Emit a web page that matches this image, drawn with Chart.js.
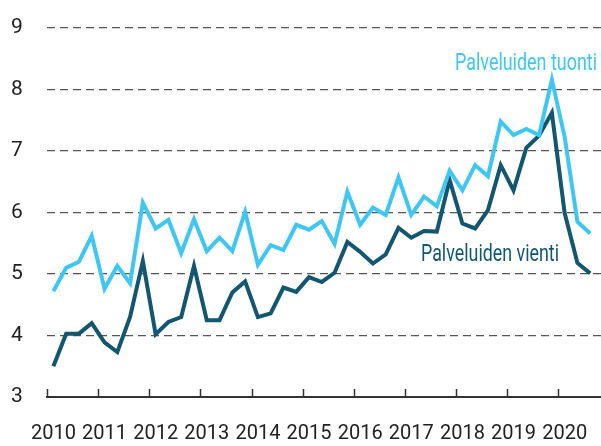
<!DOCTYPE html>
<html>
<head>
<meta charset="utf-8">
<script src="https://cdn.jsdelivr.net/npm/chart.js@4"></script>
<style>
  html, body { margin: 0; padding: 0; background: #fff; overflow: hidden; }
  canvas { display: block; }
</style>
</head>
<body>
<canvas id="chart" width="628" height="446"></canvas>
<script>
// vuodet x-akselille, neljännekset niiden sisällä
var years = ['2010', '2011', '2012', '2013', '2014', '2015', '2016', '2017', '2018', '2019', '2020'];
var quarters = [];
years.forEach(function (y) {
    for (var q = 1; q <= 4; q++) quarters.push(y + 'Q' + q);
});

// mrd. euroa, neljännesvuosittain 2010Q1 - 2020Q3
var tuonti = [4.72, 5.10, 5.20, 5.62, 4.76, 5.13, 4.85, 6.16, 5.74, 5.88, 5.34, 5.89,
              5.37, 5.59, 5.37, 6.01, 5.15, 5.47, 5.39, 5.80, 5.72, 5.86, 5.49, 6.34,
              5.80, 6.08, 5.96, 6.57, 5.96, 6.26, 6.10, 6.68, 6.36, 6.77, 6.59, 7.48,
              7.26, 7.36, 7.26, 8.16, 7.23, 5.85, 5.66];
var vienti = [3.50, 4.03, 4.03, 4.20, 3.89, 3.73, 4.30, 5.21, 4.02, 4.22, 4.30, 5.13,
              4.25, 4.25, 4.70, 4.88, 4.30, 4.36, 4.78, 4.71, 4.95, 4.87, 5.02, 5.52,
              5.36, 5.17, 5.32, 5.75, 5.59, 5.70, 5.69, 6.53, 5.82, 5.74, 6.04, 6.77,
              6.36, 7.05, 7.25, 7.62, 5.99, 5.18, 5.01];

var yTicks = [3, 4, 5, 6, 7, 8, 9];

var FONT = "Roboto, 'Liberation Sans', sans-serif";
var LIGHT = '#40c6f2';
var DARK = '#135670';

// vuosirajojen pystyviivat ja sarjojen nimet
var extras = {
    id: 'extras',
    afterDatasetsDraw: function (chart) {
        var ctx = chart.ctx;
        var x = chart.scales.x;
        var bottom = chart.chartArea.bottom;
        var half = (x.getPixelForValue(1) - x.getPixelForValue(0)) / 2;
        ctx.save();
        ctx.strokeStyle = '#333';
        ctx.lineWidth = 1.5;
        for (var i = 0; i <= quarters.length; i += 4) {
            var px = Math.round(x.getPixelForValue(0) - half + i * 2 * half) + 0.5;
            ctx.beginPath();
            ctx.moveTo(px, bottom);
            ctx.lineTo(px, bottom - 8);
            ctx.stroke();
        }
        ctx.font = '24px ' + FONT;
        ctx.textAlign = 'right';
        ctx.textBaseline = 'alphabetic';
        ctx.fillStyle = LIGHT;
        ctx.fillText('Palveluiden tuonti', 597, 70, 142);
        ctx.fillStyle = DARK;
        ctx.fillText('Palveluiden vienti', 559, 261, 138);
        ctx.restore();
    }
};

var ctx = document.getElementById('chart').getContext('2d');
var chart = new Chart(ctx, {
    type: 'line',
    data: {
        labels: quarters,
        datasets: [{
            label: 'Palveluiden tuonti',
            data: tuonti,
            borderColor: LIGHT,
            borderWidth: 4,
            pointRadius: 0,
            tension: 0,
            fill: false
        }, {
            label: 'Palveluiden vienti',
            data: vienti,
            borderColor: DARK,
            borderWidth: 4,
            pointRadius: 0,
            tension: 0,
            fill: false
        }]
    },
    options: {
        responsive: false,
        animation: false,
        layout: { padding: { top: 28, left: 11, right: 1, bottom: 0 } },
        plugins: {
            legend: { display: false },
            tooltip: { enabled: false }
        },
        scales: {
            x: {
                offset: true,
                afterFit: function (axis) { axis.height = 49; },
                grid: { display: false, drawTicks: false },
                border: { display: true, color: '#333', width: 2 },
                ticks: {
                    autoSkip: false,
                    maxRotation: 0,
                    padding: 25,
                    color: '#222',
                    font: { family: FONT, size: 20 },
                    callback: function (v, i) {
                        return i % 4 === 0 ? years[i / 4] : '';
                    }
                }
            },
            y: {
                min: yTicks[0],
                max: yTicks[yTicks.length - 1],
                afterFit: function (axis) { axis.width = 36; },
                afterBuildTicks: function (axis) {
                    axis.ticks = yTicks.map(function (v) { return { value: v }; });
                },
                grid: {
                    drawTicks: false,
                    color: function (c) { return c.tick && c.tick.value === yTicks[0] ? 'rgba(0,0,0,0)' : '#555'; },
                    lineWidth: 1.3
                },
                border: { display: false, dash: [8, 5] },
                ticks: {
                    padding: 0,
                    crossAlign: 'far',
                    color: '#222',
                    font: { family: FONT, size: 21 }
                }
            }
        }
    },
    plugins: [extras]
});
</script>
</body>
</html>
